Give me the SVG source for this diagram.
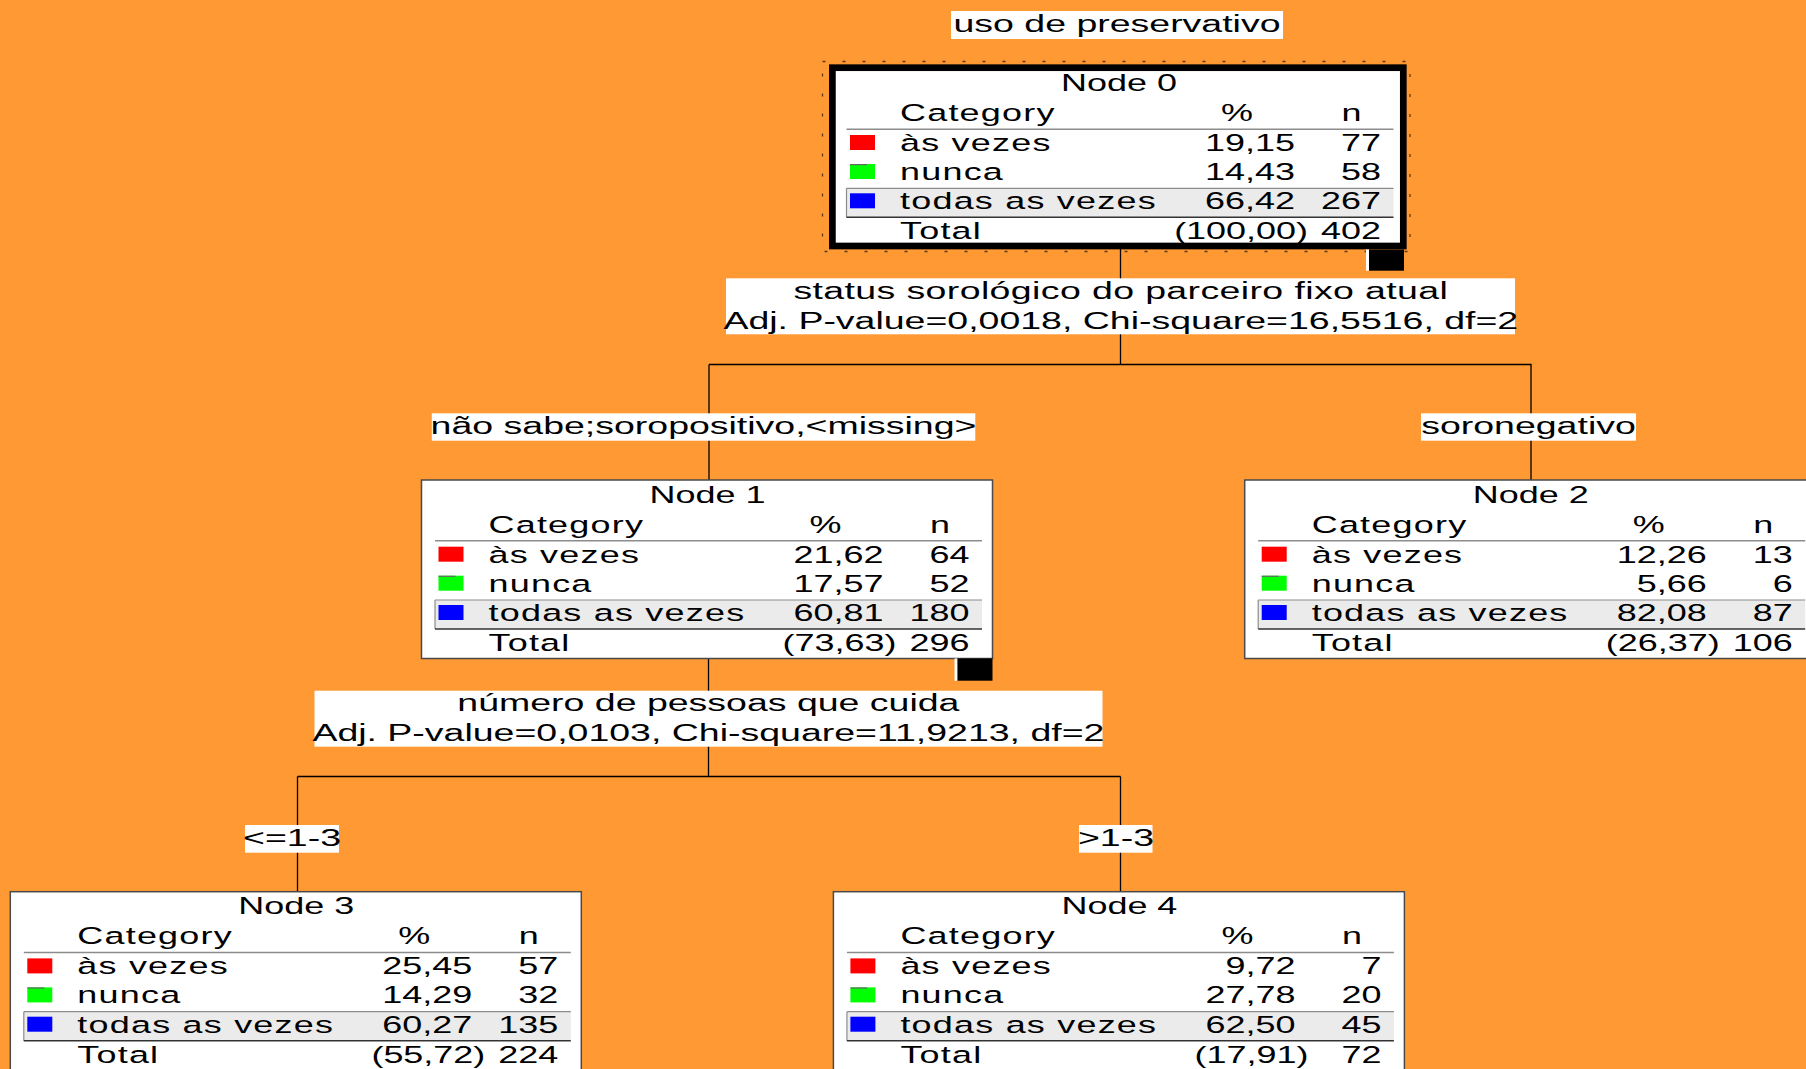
<svg xmlns="http://www.w3.org/2000/svg" width="1806" height="1069" viewBox="0 0 1806 1069">
<style>
text{font-family:"Liberation Sans",Arial,Helvetica,sans-serif;fill:#000}
.t{font-size:23.5px}
.l{font-size:24.5px}
.w{letter-spacing:0.8px}
.s1{letter-spacing:0.25px}
.m{text-anchor:middle}
.e{text-anchor:end}
.box{fill:#fff;stroke:#4a4a4a;stroke-width:1.5}
.lbl{fill:#fff}
.sep{stroke:#8c8c8c;stroke-width:1.5}
.band{fill:#ebebeb}
.bt{stroke:#8c8c8c;stroke-width:1.2}
.bb{stroke:#333;stroke-width:1.5}
.conn line{stroke:#000;stroke-width:1.3}
.r{fill:#f00}.g{fill:#0f0}.b{fill:#00f}
.gm{fill:#666}
</style>
<rect x="0" y="0" width="1806" height="1069" fill="#FF9933"/>

<g id="connectors" class="conn">
<line x1="1120.5" y1="249" x2="1120.5" y2="364.5"/>
<line x1="709" y1="364.5" x2="1531.5" y2="364.5"/>
<line x1="709" y1="364.5" x2="709" y2="480"/>
<line x1="1531" y1="364.5" x2="1531" y2="480"/>
<line x1="708.5" y1="658.5" x2="708.5" y2="776.5"/>
<line x1="297.5" y1="776.5" x2="1120.5" y2="776.5"/>
<line x1="297.5" y1="776.5" x2="297.5" y2="891.7"/>
<line x1="1120.5" y1="776.5" x2="1120.5" y2="891.7"/>
</g>

<g id="title">
<rect class="lbl" x="951" y="11" width="332" height="28"/>
<text class="l m" transform="translate(1117 32) scale(1.53 1)">uso de preservativo</text>
</g>

<g id="split-labels">
<rect class="lbl" x="726" y="278.3" width="789" height="56"/>
<text class="l m s1" transform="translate(1120.8 298.5) scale(1.53 1)">status sorológico do parceiro fixo atual</text>
<text class="l m" transform="translate(1120.8 329.3) scale(1.53 1)">Adj. P-value=0,0018, Chi-square=16,5516, df=2</text>
<rect class="lbl" x="314.5" y="690.7" width="788" height="56"/>
<text class="l m" transform="translate(708.4 711.3) scale(1.53 1)">número de pessoas que cuida</text>
<text class="l m" transform="translate(708.4 741) scale(1.53 1)">Adj. P-value=0,0103, Chi-square=11,9213, df=2</text>
</g>

<g id="edge-labels">
<rect class="lbl" x="431.8" y="413.3" width="543.5" height="27.4"/>
<text class="l m" transform="translate(703.5 434) scale(1.53 1)">não sabe;soropositivo,&lt;missing&gt;</text>
<rect class="lbl" x="1421" y="413.3" width="215" height="27.4"/>
<text class="l m" transform="translate(1528.5 434) scale(1.53 1)">soronegativo</text>
<rect class="lbl" x="245" y="825" width="94" height="27.7"/>
<text class="l m" transform="translate(292 846) scale(1.53 1)">&lt;=1-3</text>
<rect class="lbl" x="1079" y="825" width="73.5" height="27.7"/>
<text class="l m" transform="translate(1116 846) scale(1.53 1)">&gt;1-3</text>
</g>

<g id="node0">
<rect x="822.5" y="61.5" width="587.5" height="190" fill="none" stroke="#5a3a1a" stroke-width="1.3" stroke-dasharray="3 17"/>
<rect x="832.4" y="67.7" width="570.9" height="178.3" fill="#fff" stroke="#000" stroke-width="6.7"/>
<rect x="1366" y="249.5" width="3" height="21.2" fill="#fff"/>
<rect x="1369" y="249.5" width="35" height="21.2" fill="#000"/>
<text class="t m" transform="translate(1119 91.2) scale(1.53 1)">Node 0</text>
<text class="t w" transform="translate(900 121.3) scale(1.53 1)">Category</text>
<text class="t m" transform="translate(1237 121.3) scale(1.53 1)">%</text>
<text class="t m" transform="translate(1351.5 121.3) scale(1.53 1)">n</text>
<line class="sep" x1="846.5" y1="129.2" x2="1393.5" y2="129.2"/>
<rect class="band" x="846.5" y="188.3" width="547" height="29"/>
<line class="bt" x1="846.5" y1="188.3" x2="1393.5" y2="188.3"/>
<line class="bt" x1="846.5" y1="188.3" x2="846.5" y2="217.3"/>
<line class="bb" x1="846.5" y1="217.3" x2="1393.5" y2="217.3"/>
<rect class="r" x="850" y="135" width="25" height="15"/>
<rect class="g" x="850" y="164" width="25" height="15"/>
<rect class="gm" x="850" y="164" width="17" height="1.2"/>
<rect class="b" x="850" y="193.3" width="25" height="15"/>
<text class="t w" transform="translate(900 151) scale(1.53 1)">às vezes</text>
<text class="t e" transform="translate(1295 151) scale(1.53 1)">19,15</text>
<text class="t e" transform="translate(1381 151) scale(1.53 1)">77</text>
<text class="t w" transform="translate(900 180) scale(1.53 1)">nunca</text>
<text class="t e" transform="translate(1295 180) scale(1.53 1)">14,43</text>
<text class="t e" transform="translate(1381 180) scale(1.53 1)">58</text>
<text class="t w" transform="translate(900 209.3) scale(1.53 1)">todas as vezes</text>
<text class="t e" transform="translate(1295 209.3) scale(1.53 1)">66,42</text>
<text class="t e" transform="translate(1381 209.3) scale(1.53 1)">267</text>
<text class="t w" transform="translate(900 239) scale(1.53 1)">Total</text>
<text class="t e" transform="translate(1308 239) scale(1.53 1)">(100,00)</text>
<text class="t e" transform="translate(1381 239) scale(1.53 1)">402</text>
</g>

<g id="node1">
<rect class="box" x="421.5" y="480" width="571" height="178.5"/>
<rect x="954.5" y="658.5" width="3" height="22.2" fill="#fff"/>
<rect x="957.5" y="658.5" width="35" height="22.2" fill="#000"/>
<text class="t m" transform="translate(707.5 502.7) scale(1.53 1)">Node 1</text>
<text class="t w" transform="translate(488.5 532.7) scale(1.53 1)">Category</text>
<text class="t m" transform="translate(825.5 532.7) scale(1.53 1)">%</text>
<text class="t m" transform="translate(940 532.7) scale(1.53 1)">n</text>
<line class="sep" x1="435" y1="540.7" x2="982" y2="540.7"/>
<rect class="band" x="435" y="600" width="547" height="29"/>
<line class="bt" x1="435" y1="600" x2="982" y2="600"/>
<line class="bt" x1="435" y1="600" x2="435" y2="629"/>
<line class="bb" x1="435" y1="629" x2="982" y2="629"/>
<rect class="r" x="438.5" y="546.7" width="25" height="15"/>
<rect class="g" x="438.5" y="575.7" width="25" height="15"/>
<rect class="gm" x="438.5" y="575.7" width="17" height="1.2"/>
<rect class="b" x="438.5" y="605" width="25" height="15"/>
<text class="t w" transform="translate(488.5 562.7) scale(1.53 1)">às vezes</text>
<text class="t e" transform="translate(883.5 562.7) scale(1.53 1)">21,62</text>
<text class="t e" transform="translate(969.5 562.7) scale(1.53 1)">64</text>
<text class="t w" transform="translate(488.5 591.7) scale(1.53 1)">nunca</text>
<text class="t e" transform="translate(883.5 591.7) scale(1.53 1)">17,57</text>
<text class="t e" transform="translate(969.5 591.7) scale(1.53 1)">52</text>
<text class="t w" transform="translate(488.5 621) scale(1.53 1)">todas as vezes</text>
<text class="t e" transform="translate(883.5 621) scale(1.53 1)">60,81</text>
<text class="t e" transform="translate(969.5 621) scale(1.53 1)">180</text>
<text class="t w" transform="translate(488.5 651) scale(1.53 1)">Total</text>
<text class="t e" transform="translate(896.5 651) scale(1.53 1)">(73,63)</text>
<text class="t e" transform="translate(969.5 651) scale(1.53 1)">296</text>
</g>

<g id="node2">
<rect class="box" x="1244.7" y="480" width="571" height="178.5"/>
<text class="t m" transform="translate(1530.7 502.7) scale(1.53 1)">Node 2</text>
<text class="t w" transform="translate(1311.7 532.7) scale(1.53 1)">Category</text>
<text class="t m" transform="translate(1648.7 532.7) scale(1.53 1)">%</text>
<text class="t m" transform="translate(1763.2 532.7) scale(1.53 1)">n</text>
<line class="sep" x1="1258.2" y1="540.7" x2="1805.2" y2="540.7"/>
<rect class="band" x="1258.2" y="600" width="547" height="29"/>
<line class="bt" x1="1258.2" y1="600" x2="1805.2" y2="600"/>
<line class="bt" x1="1258.2" y1="600" x2="1258.2" y2="629"/>
<line class="bb" x1="1258.2" y1="629" x2="1805.2" y2="629"/>
<rect class="r" x="1261.7" y="546.7" width="25" height="15"/>
<rect class="g" x="1261.7" y="575.7" width="25" height="15"/>
<rect class="gm" x="1261.7" y="575.7" width="17" height="1.2"/>
<rect class="b" x="1261.7" y="605" width="25" height="15"/>
<text class="t w" transform="translate(1311.7 562.7) scale(1.53 1)">às vezes</text>
<text class="t e" transform="translate(1706.7 562.7) scale(1.53 1)">12,26</text>
<text class="t e" transform="translate(1792.7 562.7) scale(1.53 1)">13</text>
<text class="t w" transform="translate(1311.7 591.7) scale(1.53 1)">nunca</text>
<text class="t e" transform="translate(1706.7 591.7) scale(1.53 1)">5,66</text>
<text class="t e" transform="translate(1792.7 591.7) scale(1.53 1)">6</text>
<text class="t w" transform="translate(1311.7 621) scale(1.53 1)">todas as vezes</text>
<text class="t e" transform="translate(1706.7 621) scale(1.53 1)">82,08</text>
<text class="t e" transform="translate(1792.7 621) scale(1.53 1)">87</text>
<text class="t w" transform="translate(1311.7 651) scale(1.53 1)">Total</text>
<text class="t e" transform="translate(1719.7 651) scale(1.53 1)">(26,37)</text>
<text class="t e" transform="translate(1792.7 651) scale(1.53 1)">106</text>
</g>

<g id="node3">
<rect class="box" x="10.3" y="891.7" width="571" height="178.5"/>
<text class="t m" transform="translate(296.3 914.4) scale(1.53 1)">Node 3</text>
<text class="t w" transform="translate(77.3 944.4) scale(1.53 1)">Category</text>
<text class="t m" transform="translate(414.3 944.4) scale(1.53 1)">%</text>
<text class="t m" transform="translate(528.8 944.4) scale(1.53 1)">n</text>
<line class="sep" x1="23.8" y1="952.4" x2="570.8" y2="952.4"/>
<rect class="band" x="23.8" y="1011.7" width="547" height="29"/>
<line class="bt" x1="23.8" y1="1011.7" x2="570.8" y2="1011.7"/>
<line class="bt" x1="23.8" y1="1011.7" x2="23.8" y2="1040.7"/>
<line class="bb" x1="23.8" y1="1040.7" x2="570.8" y2="1040.7"/>
<rect class="r" x="27.3" y="958.4" width="25" height="15"/>
<rect class="g" x="27.3" y="987.4" width="25" height="15"/>
<rect class="gm" x="27.3" y="987.4" width="17" height="1.2"/>
<rect class="b" x="27.3" y="1016.7" width="25" height="15"/>
<text class="t w" transform="translate(77.3 974.4) scale(1.53 1)">às vezes</text>
<text class="t e" transform="translate(472.3 974.4) scale(1.53 1)">25,45</text>
<text class="t e" transform="translate(558.3 974.4) scale(1.53 1)">57</text>
<text class="t w" transform="translate(77.3 1003.4) scale(1.53 1)">nunca</text>
<text class="t e" transform="translate(472.3 1003.4) scale(1.53 1)">14,29</text>
<text class="t e" transform="translate(558.3 1003.4) scale(1.53 1)">32</text>
<text class="t w" transform="translate(77.3 1032.7) scale(1.53 1)">todas as vezes</text>
<text class="t e" transform="translate(472.3 1032.7) scale(1.53 1)">60,27</text>
<text class="t e" transform="translate(558.3 1032.7) scale(1.53 1)">135</text>
<text class="t w" transform="translate(77.3 1062.5) scale(1.53 1)">Total</text>
<text class="t e" transform="translate(485.3 1062.5) scale(1.53 1)">(55,72)</text>
<text class="t e" transform="translate(558.3 1062.5) scale(1.53 1)">224</text>
</g>

<g id="node4">
<rect class="box" x="833.4" y="891.7" width="571" height="178.5"/>
<text class="t m" transform="translate(1119.4 914.4) scale(1.53 1)">Node 4</text>
<text class="t w" transform="translate(900.4 944.4) scale(1.53 1)">Category</text>
<text class="t m" transform="translate(1237.4 944.4) scale(1.53 1)">%</text>
<text class="t m" transform="translate(1351.9 944.4) scale(1.53 1)">n</text>
<line class="sep" x1="846.9" y1="952.4" x2="1393.9" y2="952.4"/>
<rect class="band" x="846.9" y="1011.7" width="547" height="29"/>
<line class="bt" x1="846.9" y1="1011.7" x2="1393.9" y2="1011.7"/>
<line class="bt" x1="846.9" y1="1011.7" x2="846.9" y2="1040.7"/>
<line class="bb" x1="846.9" y1="1040.7" x2="1393.9" y2="1040.7"/>
<rect class="r" x="850.4" y="958.4" width="25" height="15"/>
<rect class="g" x="850.4" y="987.4" width="25" height="15"/>
<rect class="gm" x="850.4" y="987.4" width="17" height="1.2"/>
<rect class="b" x="850.4" y="1016.7" width="25" height="15"/>
<text class="t w" transform="translate(900.4 974.4) scale(1.53 1)">às vezes</text>
<text class="t e" transform="translate(1295.4 974.4) scale(1.53 1)">9,72</text>
<text class="t e" transform="translate(1381.4 974.4) scale(1.53 1)">7</text>
<text class="t w" transform="translate(900.4 1003.4) scale(1.53 1)">nunca</text>
<text class="t e" transform="translate(1295.4 1003.4) scale(1.53 1)">27,78</text>
<text class="t e" transform="translate(1381.4 1003.4) scale(1.53 1)">20</text>
<text class="t w" transform="translate(900.4 1032.7) scale(1.53 1)">todas as vezes</text>
<text class="t e" transform="translate(1295.4 1032.7) scale(1.53 1)">62,50</text>
<text class="t e" transform="translate(1381.4 1032.7) scale(1.53 1)">45</text>
<text class="t w" transform="translate(900.4 1062.5) scale(1.53 1)">Total</text>
<text class="t e" transform="translate(1308.4 1062.5) scale(1.53 1)">(17,91)</text>
<text class="t e" transform="translate(1381.4 1062.5) scale(1.53 1)">72</text>
</g>
</svg>
